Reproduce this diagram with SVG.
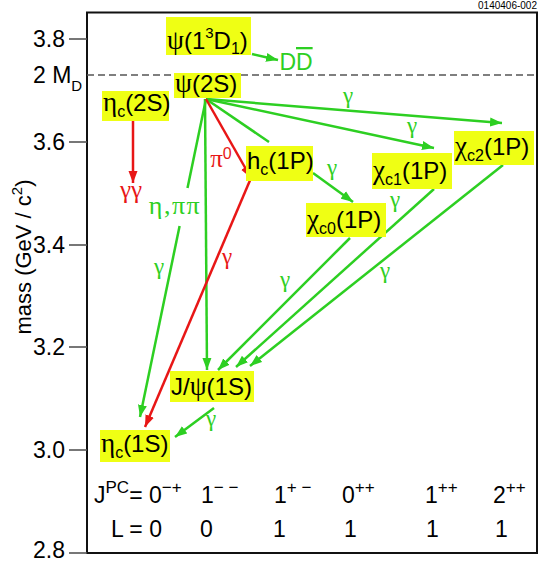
<svg xmlns="http://www.w3.org/2000/svg" width="539" height="562" viewBox="0 0 539 562">
<defs>
<style>
text{font-family:"Liberation Sans",Arial,sans-serif;fill:#000}
.t{font-size:24px}
.ax{font-size:23px}
.gr{font-family:"Liberation Serif","DejaVu Serif",serif;font-size:27px}
.sub{font-size:16px}
.sup{font-size:15px}
.bsup{font-size:17px}
.box{fill:#efff14}
.g{stroke:#2dcf22;stroke-width:2.5;fill:none}
.r{stroke:#e81616;stroke-width:2.5;fill:none}
.gt{fill:#2dcf22}
.rt{fill:#e81616}
.gl{font-family:"Liberation Serif","DejaVu Serif",serif;font-size:23px;text-anchor:middle}
.tick{stroke:#555;stroke-width:1.6}
</style>
<marker id="ag" markerUnits="userSpaceOnUse" markerWidth="14" markerHeight="10" refX="12" refY="5" orient="auto"><path d="M0,0.5 L12,5 L0,9.5 Z" fill="#2dcf22"/></marker>
<marker id="ar" markerUnits="userSpaceOnUse" markerWidth="14" markerHeight="10" refX="12" refY="5" orient="auto"><path d="M0,0.5 L12,5 L0,9.5 Z" fill="#e81616"/></marker>
</defs>

<g id="axes">
<rect x="87" y="12.5" width="450" height="540.5" fill="none" stroke="#111" stroke-width="2"/>
<line x1="87" y1="75" x2="537" y2="75" stroke="#555" stroke-width="1.6" stroke-dasharray="7,4"/>
<line class="tick" x1="69" y1="39" x2="87" y2="39"/>
<line class="tick" x1="69" y1="142" x2="87" y2="142"/>
<line class="tick" x1="69" y1="245" x2="87" y2="245"/>
<line class="tick" x1="69" y1="347" x2="87" y2="347"/>
<line class="tick" x1="69" y1="450" x2="87" y2="450"/>
<line class="tick" x1="69" y1="553" x2="87" y2="553"/>
<text class="ax" x="65" y="47" text-anchor="end">3.8</text>
<text class="ax" x="65" y="150" text-anchor="end">3.6</text>
<text class="ax" x="65" y="253" text-anchor="end">3.4</text>
<text class="ax" x="65" y="355" text-anchor="end">3.2</text>
<text class="ax" x="65" y="458" text-anchor="end">3.0</text>
<text class="ax" x="65" y="558" text-anchor="end">2.8</text>
<text class="ax" x="33" y="83">2 M<tspan class="sub" dy="8" style="font-size:15px">D</tspan></text>
<text class="ax" transform="translate(31,257) rotate(-90)" text-anchor="middle" style="font-size:22px">mass (GeV / c<tspan class="sup" dy="-9">2</tspan><tspan dy="9">)</tspan></text>
<text x="537" y="9" font-size="10" text-anchor="end">0140406-002</text>
</g>

<g id="connectors">
<line class="g" x1="252" y1="54" x2="278" y2="60" marker-end="url(#ag)"/>
<line class="g" x1="206" y1="99" x2="502" y2="123" marker-end="url(#ag)"/>
<line class="g" x1="206" y1="99" x2="434" y2="148" marker-end="url(#ag)"/>
<line class="g" x1="206" y1="99" x2="269" y2="142"/>
<line class="g" x1="206" y1="99" x2="187.5" y2="188"/>
<line class="g" x1="179.6" y1="226" x2="140" y2="417" marker-end="url(#ag)"/>
<line class="g" x1="205" y1="99" x2="207" y2="370" marker-end="url(#ag)"/>
<line class="g" x1="313" y1="173" x2="353" y2="202" marker-end="url(#ag)"/>
<line class="g" x1="350" y1="238" x2="218" y2="370" marker-end="url(#ag)"/>
<line class="g" x1="434" y1="189" x2="236" y2="367" marker-end="url(#ag)"/>
<line class="g" x1="503" y1="165" x2="250" y2="366" marker-end="url(#ag)"/>
<line class="g" x1="214" y1="408" x2="175" y2="437" marker-end="url(#ag)"/>
<line class="r" x1="133" y1="121" x2="133" y2="183" marker-end="url(#ar)"/>
<line class="r" x1="206" y1="99" x2="251" y2="178" marker-end="url(#ar)"/>
<line class="r" x1="251" y1="178" x2="145" y2="427" marker-end="url(#ar)"/>
</g>

<g id="connector-labels">
<text class="gl gt" x="296" y="70" style="font-family:'Liberation Sans',Arial,sans-serif;font-size:23px">D<tspan text-decoration="overline">D</tspan></text>
<text class="gl gt" x="348" y="103">γ</text>
<text class="gl gt" x="412" y="133">γ</text>
<text class="gl gt" x="332" y="175">γ</text>
<text class="gl gt" x="395" y="207">γ</text>
<text class="gl gt" x="285" y="287">γ</text>
<text class="gl gt" x="385" y="278">γ</text>
<text class="gl gt" x="159" y="274">γ</text>
<text class="gl gt" x="211" y="426">γ</text>
<text class="gl gt" x="175" y="214" style="font-size:26px;letter-spacing:1.5px">η,ππ</text>
<text class="gl rt" x="131" y="198" style="font-size:25px">γγ</text>
<text class="gl rt" x="227" y="264">γ</text>
<text class="gl rt" x="221" y="167" style="font-size:25px">π<tspan class="sup" dy="-8" style="font-family:'Liberation Sans',Arial,sans-serif;font-size:16px">0</tspan></text>
</g>

<g id="psi-1D">
<rect class="box" x="166" y="17" width="85" height="38"/>
<text class="t" x="167" y="49"><tspan class="gr">ψ</tspan>(1<tspan class="sup" dy="-11">3</tspan><tspan dy="11">D</tspan><tspan class="sub" dy="5">1</tspan><tspan dy="-5">)</tspan></text>
</g>
<g id="psi-2S">
<rect class="box" x="174" y="73" width="67" height="25"/>
<text class="t" x="175" y="92"><tspan class="gr">ψ</tspan>(2S)</text>
</g>
<g id="etac-2S">
<rect class="box" x="102" y="91" width="67" height="30"/>
<text class="t" x="103" y="111"><tspan class="gr">η</tspan><tspan class="sub" dy="6">c</tspan><tspan dy="-6">(2S)</tspan></text>
</g>
<g id="hc-1P">
<rect class="box" x="246" y="146" width="67" height="35"/>
<text class="t" x="247" y="169">h<tspan class="sub" dy="6">c</tspan><tspan dy="-6">(1P)</tspan></text>
</g>
<g id="chic0-1P">
<rect class="box" x="306" y="203" width="80" height="34"/>
<text class="t" x="307" y="228"><tspan class="gr">χ</tspan><tspan class="sub" dy="6">c0</tspan><tspan dy="-6">(1P)</tspan></text>
</g>
<g id="chic1-1P">
<rect class="box" x="372" y="153" width="80" height="36"/>
<text class="t" x="373" y="179"><tspan class="gr">χ</tspan><tspan class="sub" dy="6">c1</tspan><tspan dy="-6">(1P)</tspan></text>
</g>
<g id="chic2-1P">
<rect class="box" x="454" y="131" width="80" height="34"/>
<text class="t" x="455" y="155"><tspan class="gr">χ</tspan><tspan class="sub" dy="6">c2</tspan><tspan dy="-6">(1P)</tspan></text>
</g>
<g id="jpsi-1S">
<rect class="box" x="170" y="371" width="84" height="31"/>
<text class="t" x="171" y="395">J/<tspan class="gr">ψ</tspan>(1S)</text>
</g>
<g id="etac-1S">
<rect class="box" x="100" y="430" width="70" height="32"/>
<text class="t" x="101" y="452"><tspan class="gr">η</tspan><tspan class="sub" dy="6">c</tspan><tspan dy="-6">(1S)</tspan></text>
</g>

<g id="quantum-numbers">
<text class="ax" x="94" y="503">J<tspan class="bsup" dy="-10">PC</tspan><tspan dy="10">= 0</tspan><tspan class="bsup" dy="-10">−+</tspan></text>
<text class="ax" x="201" y="503">1<tspan class="bsup" dy="-10">− −</tspan></text>
<text class="ax" x="274" y="503">1<tspan class="bsup" dy="-10">+ −</tspan></text>
<text class="ax" x="342" y="503">0<tspan class="bsup" dy="-10">++</tspan></text>
<text class="ax" x="425" y="503">1<tspan class="bsup" dy="-10">++</tspan></text>
<text class="ax" x="493" y="503">2<tspan class="bsup" dy="-10">++</tspan></text>
<text class="ax" x="111" y="537">L = 0</text>
<text class="ax" x="200" y="537">0</text>
<text class="ax" x="273" y="537">1</text>
<text class="ax" x="344" y="537">1</text>
<text class="ax" x="426" y="537">1</text>
<text class="ax" x="495" y="537">1</text>
</g>
</svg>
